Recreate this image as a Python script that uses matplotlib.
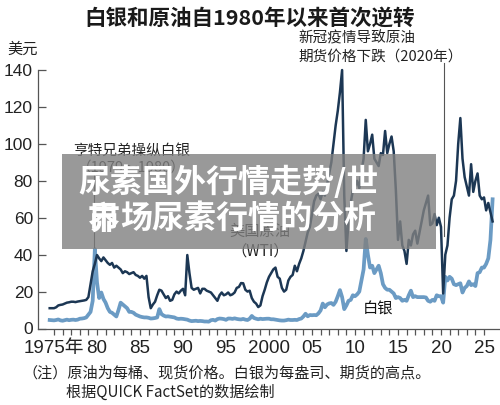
import matplotlib
matplotlib.use('Agg')
import matplotlib.pyplot as plt
import numpy as np
from matplotlib.patches import Rectangle

CJK = ['Noto Sans CJK SC', 'DejaVu Sans']
XNUM = ['Liberation Sans', 'Noto Sans CJK SC', 'DejaVu Sans']
NUMF = ['Liberation Sans', 'DejaVu Sans']

# ---------------- data (quarterly, first point = 1974.5) ----------------
start_year = 1974.5
step = 0.25

oil_1970s = [11, 11,
             11, 11.5, 12.5, 12.8,
             13, 13.5, 14, 14.2,
             14.5, 14.5, 14.3, 14.6,
             14.8, 15, 15.2, 15.5,
             17, 24, 31, 35]
oil_1980s = [39.8, 38, 36.5, 38.5,
             37, 35.5, 34.5, 35.5,
             33, 34, 33, 32,
             30, 31, 30.5, 29.5,
             30, 30.5, 29, 28.5,
             27.5, 28.5, 27, 28.5,
             17, 11, 13, 14.5,
             18, 21, 20.5, 18.5,
             16.5, 17.5, 15, 15.5,
             18.5, 20, 19, 20.5]
oil_1990s = [21.5, 18, 39.8, 30,
             22, 21, 21.5, 22,
             19, 21.5, 21.5, 20.5,
             20, 19.5, 18, 16.5,
             15, 18, 19.5, 18,
             18.5, 19.5, 18, 18.5,
             19.5, 22, 22.5, 24.6,
             24.5, 21, 20, 20.5,
             16.5, 14.5, 13.5, 11.6,
             12.5, 17.5, 21, 25]
oil_2000s = [28, 30, 32, 33,
             28, 27, 22, 20,
             21, 26, 28, 29,
             34, 31, 35, 38,
             42, 47, 52, 55,
             62, 69, 72, 73,
             70, 74, 72, 78,
             84, 90, 100, 110,
             118, 128, 140, 72,
             42, 58, 68, 75]
oil_2010s = [77, 80, 76, 85,
             92, 113, 96, 100,
             105, 92, 90, 88,
             95, 94, 107, 95,
             100, 104, 96, 75,
             48, 58, 45, 42,
             35, 48, 45, 51,
             53, 46, 52, 58,
             64, 68, 72, 56,
             57, 62, 56, 60]
oil_2020s = [55, 19, 40, 45,
             60, 70, 72, 80,
             100, 114, 92, 82,
             77, 72, 89, 74,
             80, 84, 72, 70,
             71, 64, 68, 63, 58]

silver_1970s = [4.6, 4.5,
                4.4, 4.6, 4.9, 4.4,
                4.2, 4.5, 4.8, 4.5,
                4.7, 4.8, 4.6, 4.8,
                5.3, 5.4, 5.6, 6.0,
                7.5, 9, 15, 43]
silver_1980s = [25, 16.5, 19.5, 16,
                14, 11, 9, 8.5,
                7.5, 6.5, 10, 14,
                13, 12, 11, 9,
                9, 8.5, 7.5, 7,
                6.5, 6.2, 6, 6,
                5.8, 5.4, 5.5, 5.7,
                6, 10.5, 7.8, 7,
                6.5, 6.6, 6.4, 6.2,
                6, 5.4, 5.2, 5.3]
silver_1990s = [5.2, 5, 4.8, 4.3,
                4, 4.1, 4.2, 4,
                4.1, 4, 3.8, 3.8,
                3.7, 4.5, 4.7, 4.3,
                5.1, 5.4, 5.3, 5.1,
                4.7, 5.4, 5.4, 5.2,
                5.5, 5.2, 5.0, 4.9,
                5.2, 4.8, 4.6, 5.3,
                6.8, 5.7, 5.3, 5.0,
                5.3, 5.1, 5.2, 5.3]
silver_2000s = [5.3, 5.0, 5.0, 4.8,
                4.6, 4.4, 4.3, 4.3,
                4.5, 4.8, 4.6, 4.6,
                4.7, 4.6, 5.1, 5.4,
                6.5, 8, 6.6, 7.3,
                7.2, 7.3, 7.2, 8.2,
                9.8, 13.5, 11.5, 13,
                13.6, 13.8, 12.8, 14.5,
                17.5, 20.8, 17, 10.5,
                12.5, 15, 15.5, 18]
silver_2010s = [17.5, 18.5, 20, 26,
                32, 48.5, 40, 33,
                34, 30, 32, 34,
                30, 24, 22, 21,
                21, 20, 19, 16.5,
                17, 16.5, 15, 15.5,
                15, 18, 20.5, 17,
                17.5, 17, 17, 17,
                17, 16.8, 15, 14.5,
                15.5, 15, 18, 17.5]
silver_2020s = [17.5, 14, 28, 26,
                28, 27, 24, 23.5,
                24, 24.5, 19.5, 22,
                23, 25.5, 23.5, 24,
                23, 30, 30.5, 33,
                33, 35, 38, 48, 70]

y_ticks = [0, 20, 40, 60, 80, 100, 120, 140]
x_tick_years = [1975, 1980, 1985, 1990, 1995, 2000, 2005, 2010, 2015, 2020, 2025]
x_tick_labels = ['1975年', '80', '85', '90', '95', '2000', '05', '10', '15', '20', '25']

oil = np.array(oil_1970s + oil_1980s + oil_1990s + oil_2000s + oil_2010s + oil_2020s, float)
silver = np.array(silver_1970s + silver_1980s + silver_1990s + silver_2000s + silver_2010s + silver_2020s, float)
t_oil = start_year + step * np.arange(len(oil))
t_silver = start_year + step * np.arange(len(silver))

OIL_C = '#1c3754'
SILVER_C = '#6b9bc4'

# ---------------- figure ----------------
W, H = 500, 405
fig = plt.figure(figsize=(W / 100, H / 100), dpi=100)
fig.patch.set_facecolor('white')

def fx(x):
    return x / W

def fy(y):
    return 1 - y / H

y0_px = 328.5
px_per_unit = 1.846
ax = fig.add_axes([fx(38), fy(y0_px), 462 / W, 145 * px_per_unit / H])
ax.set_xlim(1973.14, 2026.86)
ax.set_ylim(0, 145)

ax.plot(t_silver, silver, color=SILVER_C, lw=2.7, solid_joinstyle='round', zorder=3)
ax.plot(t_oil, oil, color=OIL_C, lw=1.8, solid_joinstyle='round', zorder=4)

for s in ['top', 'right']:
    ax.spines[s].set_visible(False)
ax.spines['left'].set_bounds(0, 140)
for s in ['left', 'bottom']:
    ax.spines[s].set_color('#555555')
    ax.spines[s].set_linewidth(0.9)

ax.set_yticks(y_ticks)
ax.set_yticklabels([str(v) for v in y_ticks])
ax.tick_params(axis='y', direction='in', length=5.5, width=0.9, color='#555555',
               pad=3.6, labelsize=12.5, labelcolor='#222222')
for lab in ax.get_yticklabels():
    lab.set_family(NUMF)

ax.set_xticks(x_tick_years)
ax.set_xticklabels(x_tick_labels)
ax.set_xticks(np.arange(1976, 2026), minor=True)
ax.tick_params(axis='x', which='both', direction='out', length=4.5, width=0.9,
               color='#555555', pad=4, labelsize=13.5, labelcolor='#222222')
for lab in ax.get_xticklabels():
    lab.set_family(XNUM)

# annotation pointer lines
ax.plot([1979.7, 1979.7], [44, 85], color='#444444', lw=0.8, zorder=5)
ax.plot([2020.4, 2020.4], [50, 143.8], color='#555555', lw=0.8, zorder=2, clip_on=False)

# ---------------- texts ----------------
fig.text(fx(250), fy(18), '白银和原油自1980年以来首次逆转', ha='center', va='center',
         fontsize=15.5, fontweight='bold', family=CJK, color='#1a1a1a')
fig.text(fx(7), fy(49), '美元', ha='left', va='center', fontsize=11, family=CJK, color='#222222')
fig.text(fx(298), fy(38), '新冠疫情导致原油', ha='left', va='center', fontsize=10.5,
         family=CJK, color='#222222')
fig.text(fx(298), fy(57), '期货价格下跌（2020年）', ha='left', va='center', fontsize=10.5,
         family=CJK, color='#222222')
fig.text(fx(73), fy(151), '亨特兄弟操纵白银', ha='left', va='center', fontsize=10.5,
         family=CJK, color='#222222')
fig.text(fx(77), fy(168), '（1979～1980）', ha='left', va='center', fontsize=10.5,
         family=CJK, color='#222222')
fig.text(fx(260), fy(231), '美国原油', ha='center', va='center', fontsize=11,
         family=CJK, color='#222222')
fig.text(fx(260), fy(251), '（WTI）', ha='center', va='center', fontsize=11,
         family=CJK, color='#222222')
fig.text(fx(363), fy(309), '白银', ha='left', va='center', fontsize=11,
         family=CJK, color='#111111')
fig.text(fx(22), fy(373), '（注）原油为每桶、现货价格。白银为每盎司、期货的高点。', ha='left',
         va='center', fontsize=10.9, family=CJK, color='#222222')
fig.text(fx(66), fy(392), '根据QUICK FactSet的数据绘制', ha='left', va='center',
         fontsize=10.9, family=CJK, color='#222222')

# overlay box with watermark-like title
box = Rectangle((fx(62), fy(249)), (436 - 62) / W, (249 - 154) / H,
                transform=fig.transFigure, facecolor=(0.5, 0.5, 0.5), alpha=0.8,
                edgecolor='none', zorder=10)
fig.add_artist(box)
fig.text(fx(78), fy(182), '尿素国外行情走势/世', ha='left', va='center', fontsize=23,
         fontweight='bold', family=CJK, color='white', zorder=11)
fig.text(fx(88), fy(220), '界', ha='left', va='center', fontsize=23,
         fontweight='bold', family=CJK, color='white', zorder=11)
fig.text(fx(88), fy(220), '市', ha='left', va='center', fontsize=23,
         fontweight='bold', family=CJK, color='white', zorder=11)
fig.text(fx(120), fy(220), '场尿素行情的分析', ha='left', va='center', fontsize=23,
         fontweight='bold', family=CJK, color='white', zorder=11)

fig.savefig('out.png', dpi=100, facecolor='white')
